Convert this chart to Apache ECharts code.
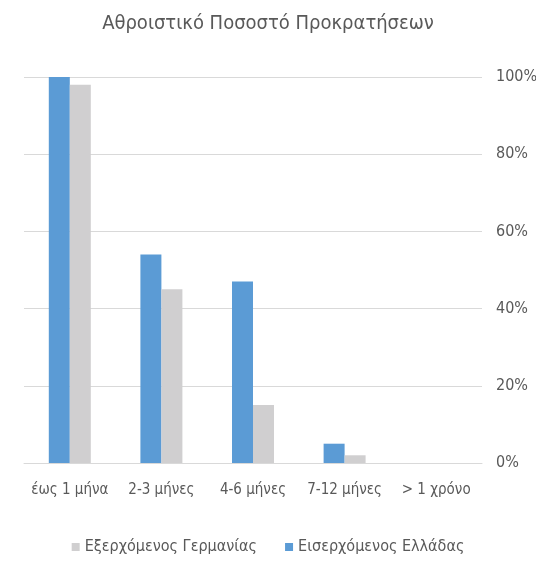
<!DOCTYPE html>
<html>
<head>
<meta charset="utf-8">
<script src="https://cdn.jsdelivr.net/npm/echarts@6/dist/echarts.min.js"></script>
<style>html,body{margin:0;padding:0;background:#fff}#c{width:536px;height:564px}</style>
</head>
<body>
<div id="c"></div>
<script>
var titleText = 'Αθροιστικό Ποσοστό Προκρατήσεων';
var categories = ['έως 1 μήνα', '2-3 μήνες', '4-6 μήνες', '7-12 μήνες', '> 1 χρόνο'];
var greeceName = 'Εισερχόμενος Ελλάδας';
var germanyName = 'Εξερχόμενος Γερμανίας';
var greeceValues = [100, 54, 47, 5, 0];
var germanyValues = [98, 45, 15, 2, 0];
var yTicks = [0, 20, 40, 60, 80, 100];

var font = '"DejaVu Sans Condensed", "Open Sans", sans-serif';
var chart = echarts.init(document.getElementById('c'));
chart.setOption({
  animation: false,
  title: {
    text: titleText, left: 'center', top: 9,
    textStyle: {fontFamily: font, fontSize: 20, fontWeight: 'normal', color: '#595959'}
  },
  grid: {left: 24, right: 54, top: 77, bottom: 101, containLabel: false, outerBoundsMode: 'none'},
  legend: {
    data: [germanyName, greeceName],
    bottom: 4, left: 'center',
    icon: 'rect', itemWidth: 8, itemHeight: 8, itemGap: 28,
    textStyle: {fontFamily: font, fontSize: 16, color: '#595959'}
  },
  xAxis: {
    type: 'category', data: categories,
    axisLine: {lineStyle: {color: '#d9d9d9', width: 1}},
    axisTick: {show: false},
    axisLabel: {fontFamily: font, fontSize: 15, color: '#595959', margin: 20, interval: 0}
  },
  yAxis: {
    type: 'value', position: 'right', min: yTicks[0], max: yTicks[yTicks.length - 1], interval: 20,
    axisLine: {show: false}, axisTick: {show: false},
    splitLine: {lineStyle: {color: '#d9d9d9', width: 1}},
    axisLabel: {fontFamily: font, fontSize: 16, color: '#595959', margin: 14, formatter: '{value}%'}
  },
  series: [
    {name: greeceName, type: 'bar', data: greeceValues, barWidth: 21, barGap: '0%',
     itemStyle: {color: '#5b9bd5'}},
    {name: germanyName, type: 'bar', data: germanyValues, barWidth: 21,
     itemStyle: {color: '#d0cfd0'}}
  ]
});
</script>
</body>
</html>
